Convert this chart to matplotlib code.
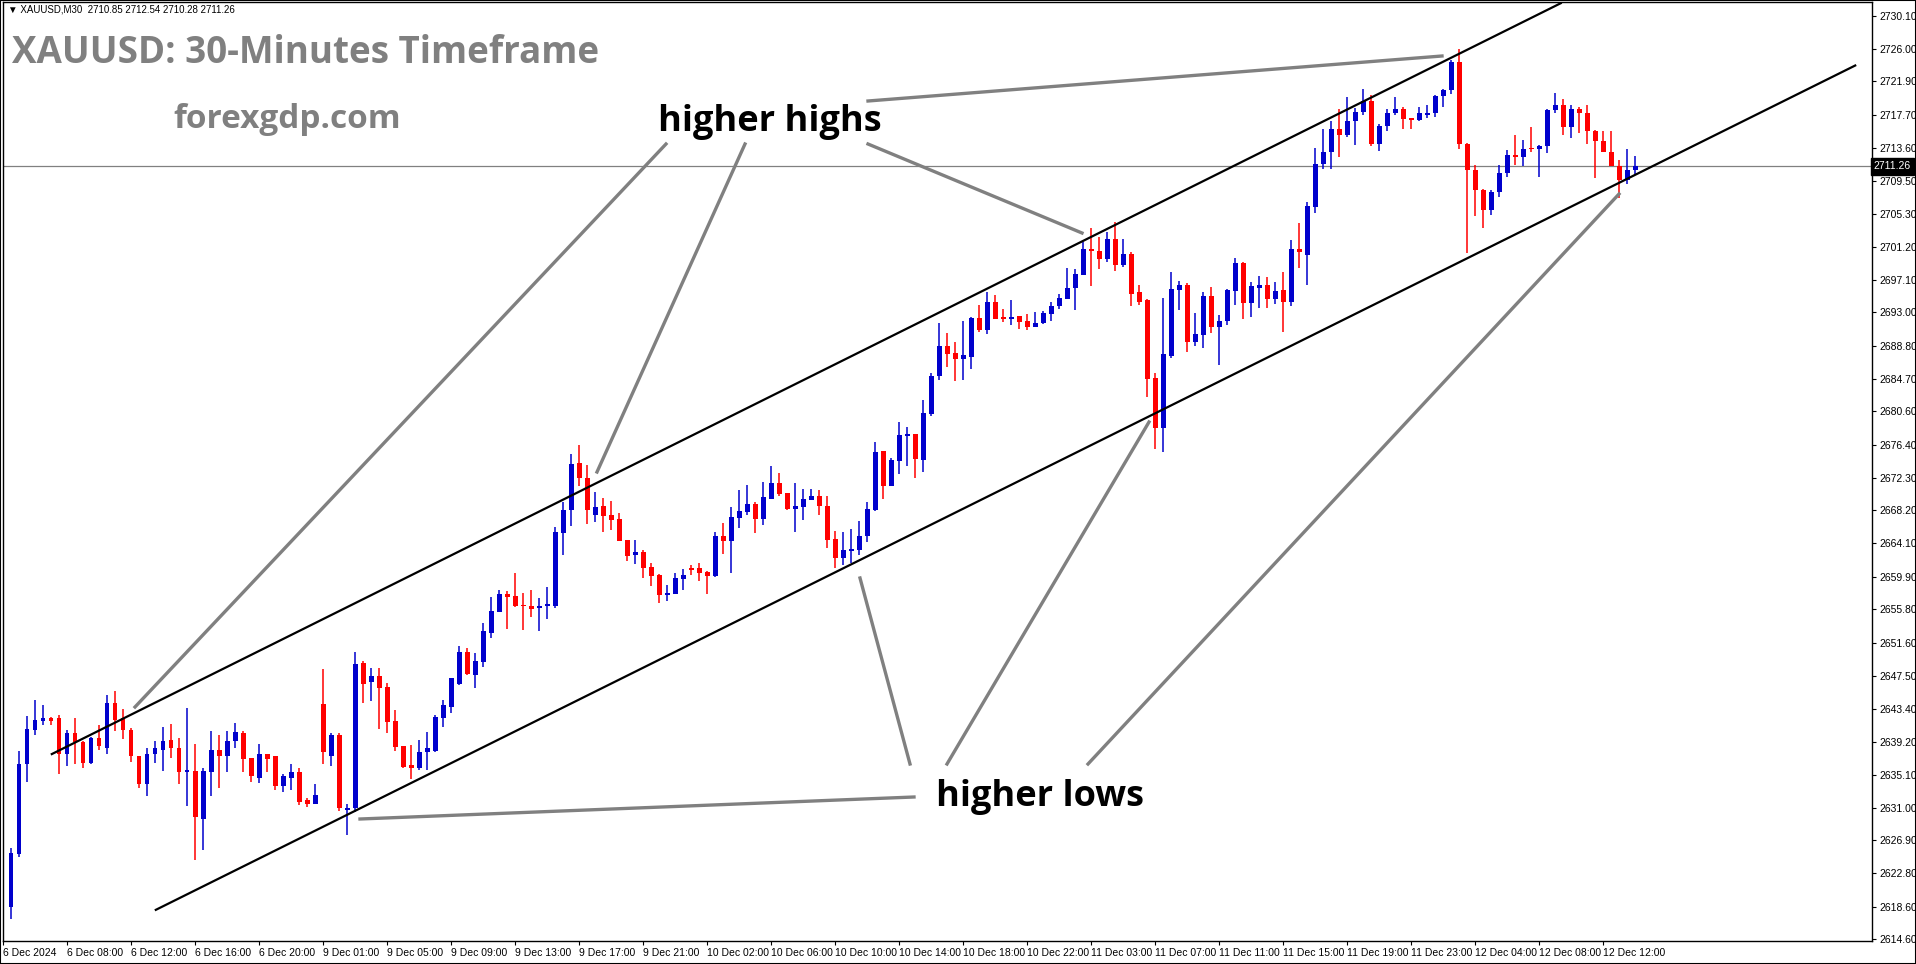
import matplotlib
matplotlib.use("Agg")
import matplotlib.pyplot as plt
from matplotlib.lines import Line2D
import numpy as np

W, H = 1916, 964

# OHLC of the 30-minute candles (10 per row)
opens = [
    2618.5, 2625.2, 2636.4, 2640.7, 2641.9, 2642.2, 2642.2, 2637.7, 2640.4, 2639.2,
    2636.6, 2639.7, 2638.5, 2644.1, 2642.2, 2640.7, 2637.5, 2634.0, 2637.7, 2638.2,
    2639.4, 2638.5, 2635.4, 2635.6, 2629.6, 2635.5, 2638.2, 2637.5, 2639.3, 2640.4,
    2637.2, 2634.7, 2637.7, 2637.4, 2633.7, 2634.7, 2635.5, 2631.9, 2631.5, 2644.0,
    2637.4, 2640.1, 2630.7, 2630.9, 2649.1, 2646.7, 2647.5, 2646.1, 2641.9, 2638.7,
    2636.3, 2636.0, 2637.9, 2638.1, 2642.2, 2643.6, 2646.5, 2650.5, 2647.6, 2649.2,
    2652.9, 2655.5, 2657.8, 2657.5, 2656.4, 2656.3, 2656.0, 2656.2, 2656.3, 2665.4,
    2668.2, 2674.2, 2672.3, 2667.6, 2668.8, 2667.6, 2667.1, 2664.5, 2662.6, 2663.0,
    2661.1, 2660.1, 2657.6, 2657.8, 2659.6, 2661.0, 2661.0, 2660.5, 2660.0, 2665.0,
    2664.4, 2667.3, 2668.0, 2669.0, 2667.1, 2669.6, 2671.6, 2670.4, 2668.4, 2668.6,
    2669.5, 2670.0, 2668.8, 2664.6, 2662.3, 2663.1, 2663.3, 2665.0, 2668.3, 2675.7,
    2671.3, 2674.4, 2677.5, 2677.8, 2674.5, 2680.3, 2685.0, 2688.8, 2687.9, 2687.2,
    2687.4, 2692.3, 2690.8, 2694.3, 2692.4, 2692.2, 2692.6, 2691.9, 2691.2, 2691.7,
    2692.8, 2693.8, 2694.7, 2696.0, 2697.7, 2700.9, 2700.7, 2699.7, 2702.2, 2698.9,
    2700.3, 2695.5, 2694.5, 2684.8, 2678.5, 2687.5, 2695.8, 2696.4, 2689.3, 2690.2,
    2695.1, 2691.2, 2691.9, 2695.7, 2699.2, 2694.2, 2696.1, 2696.4, 2694.7, 2695.8,
    2694.3, 2700.9, 2700.2, 2706.2, 2711.6, 2713.1, 2716.0, 2715.2, 2716.9, 2718.1,
    2719.4, 2714.1, 2716.3, 2717.9, 2718.5, 2717.2, 2717.1, 2717.7, 2718.0, 2720.1,
    2720.8, 2724.4, 2714.1, 2710.8, 2708.3, 2705.8, 2708.1, 2710.4, 2712.7, 2712.5,
    2713.5, 2713.4, 2713.8, 2718.3, 2718.9, 2716.2, 2718.4, 2718.0, 2715.7, 2714.5,
    2713.1, 2711.3, 2709.6, 2710.85,
]
highs = [
    2626.0, 2638.1, 2642.5, 2644.5, 2643.9, 2642.4, 2642.6, 2640.7, 2642.2, 2639.3,
    2639.9, 2641.4, 2645.1, 2645.6, 2643.4, 2641.0, 2637.5, 2638.4, 2639.3, 2641.1,
    2641.5, 2639.7, 2643.5, 2639.0, 2636.0, 2640.6, 2640.1, 2640.6, 2641.6, 2640.6,
    2637.2, 2639.0, 2637.7, 2637.4, 2635.2, 2636.4, 2635.9, 2632.2, 2633.9, 2648.3,
    2640.3, 2640.3, 2631.5, 2650.5, 2649.4, 2648.5, 2648.5, 2646.6, 2643.2, 2638.7,
    2638.8, 2639.4, 2640.5, 2642.6, 2644.5, 2647.2, 2651.2, 2651.0, 2650.4, 2654.1,
    2657.4, 2658.3, 2658.1, 2660.4, 2657.9, 2658.3, 2657.3, 2658.6, 2666.1, 2669.3,
    2675.3, 2676.4, 2673.9, 2670.5, 2669.8, 2669.4, 2667.9, 2664.5, 2664.5, 2663.3,
    2661.6, 2660.3, 2658.9, 2660.4, 2660.9, 2661.4, 2661.6, 2660.6, 2665.5, 2666.6,
    2668.6, 2670.8, 2671.4, 2669.3, 2671.8, 2673.8, 2672.9, 2670.4, 2671.6, 2670.9,
    2670.9, 2670.8, 2670.0, 2665.6, 2665.5, 2665.9, 2666.9, 2669.3, 2676.8, 2675.7,
    2674.8, 2679.3, 2678.7, 2677.8, 2682.0, 2685.4, 2691.7, 2690.4, 2689.3, 2691.9,
    2692.4, 2693.9, 2695.6, 2695.2, 2693.4, 2694.6, 2692.6, 2692.8, 2693.1, 2693.2,
    2694.3, 2695.3, 2698.6, 2698.4, 2701.8, 2703.6, 2702.4, 2703.1, 2704.3, 2702.2,
    2700.6, 2696.4, 2694.7, 2685.4, 2694.8, 2698.1, 2696.9, 2696.7, 2692.9, 2695.5,
    2696.2, 2692.7, 2695.9, 2699.8, 2699.3, 2696.8, 2697.6, 2697.4, 2696.8, 2698.1,
    2702.1, 2704.2, 2706.8, 2713.6, 2715.9, 2716.9, 2718.5, 2719.9, 2718.6, 2721.0,
    2720.2, 2716.6, 2718.4, 2719.9, 2718.7, 2717.2, 2718.7, 2719.0, 2720.2, 2721.0,
    2724.6, 2726.0, 2714.2, 2711.4, 2708.5, 2708.3, 2711.4, 2713.3, 2715.2, 2714.6,
    2716.2, 2713.9, 2718.5, 2720.5, 2719.7, 2719.0, 2718.7, 2719.0, 2715.8, 2715.7,
    2715.7, 2712.1, 2713.4, 2712.54,
]
lows = [
    2617.0, 2624.8, 2634.2, 2640.1, 2641.4, 2641.4, 2635.2, 2636.2, 2636.5, 2636.0,
    2636.4, 2638.2, 2637.7, 2640.6, 2639.6, 2636.7, 2633.5, 2632.4, 2636.6, 2635.6,
    2637.2, 2633.9, 2631.2, 2624.5, 2625.7, 2632.5, 2633.4, 2635.5, 2638.5, 2635.4,
    2634.2, 2634.1, 2635.4, 2633.2, 2632.9, 2633.2, 2631.3, 2631.1, 2631.5, 2636.5,
    2636.2, 2630.6, 2627.6, 2630.5, 2644.1, 2644.4, 2640.9, 2640.3, 2638.1, 2636.0,
    2634.6, 2635.7, 2635.7, 2638.0, 2641.1, 2642.9, 2646.4, 2647.6, 2646.0, 2648.6,
    2652.2, 2655.5, 2653.4, 2656.1, 2653.2, 2654.9, 2653.1, 2654.6, 2656.0, 2662.6,
    2666.3, 2671.2, 2666.5, 2666.8, 2665.5, 2665.8, 2664.4, 2661.9, 2661.5, 2659.8,
    2658.8, 2656.6, 2656.9, 2657.8, 2658.3, 2660.1, 2659.4, 2657.8, 2659.9, 2662.8,
    2660.4, 2666.0, 2667.6, 2665.4, 2666.4, 2669.6, 2670.0, 2668.3, 2665.5, 2667.0,
    2669.5, 2667.6, 2663.5, 2661.0, 2661.4, 2661.6, 2662.6, 2664.3, 2668.1, 2669.6,
    2671.3, 2672.7, 2673.8, 2672.2, 2673.0, 2680.0, 2684.5, 2686.2, 2684.4, 2684.5,
    2685.9, 2690.5, 2690.3, 2692.2, 2691.8, 2691.4, 2690.9, 2690.8, 2691.2, 2691.5,
    2691.9, 2693.4, 2694.7, 2693.3, 2697.7, 2696.3, 2698.4, 2699.3, 2698.2, 2698.7,
    2693.8, 2693.9, 2682.4, 2675.9, 2675.5, 2687.3, 2693.3, 2688.0, 2688.8, 2688.5,
    2690.4, 2686.4, 2691.4, 2693.9, 2692.2, 2692.4, 2693.6, 2693.6, 2694.1, 2690.5,
    2693.8, 2698.6, 2696.4, 2705.4, 2711.0, 2711.0, 2712.4, 2715.0, 2713.9, 2717.7,
    2713.8, 2713.2, 2715.7, 2717.7, 2716.0, 2716.0, 2716.9, 2717.3, 2717.4, 2718.7,
    2720.3, 2713.5, 2700.4, 2705.0, 2703.5, 2705.2, 2707.4, 2710.0, 2711.4, 2711.3,
    2713.1, 2709.9, 2713.0, 2717.9, 2715.2, 2714.8, 2715.4, 2714.1, 2709.8, 2713.1,
    2711.3, 2707.3, 2709.1, 2710.28,
]
closes = [
    2625.3, 2636.4, 2640.9, 2642.0, 2642.2, 2641.9, 2637.7, 2640.4, 2639.2, 2636.6,
    2639.7, 2638.7, 2644.1, 2642.0, 2640.7, 2637.4, 2634.0, 2637.7, 2638.5, 2639.3,
    2638.4, 2635.4, 2635.7, 2629.8, 2635.6, 2638.2, 2637.5, 2639.3, 2640.5, 2637.1,
    2634.9, 2637.7, 2637.1, 2633.7, 2634.9, 2635.5, 2631.7, 2631.5, 2632.6, 2637.9,
    2640.1, 2630.9, 2630.9, 2649.0, 2646.5, 2647.5, 2646.0, 2641.7, 2638.6, 2636.1,
    2635.9, 2638.0, 2638.4, 2642.4, 2643.9, 2647.2, 2650.5, 2647.7, 2649.4, 2653.1,
    2655.6, 2657.8, 2657.4, 2656.3, 2656.2, 2655.9, 2656.3, 2656.5, 2665.5, 2668.3,
    2674.0, 2672.2, 2668.3, 2668.6, 2667.5, 2667.0, 2664.4, 2662.5, 2663.0, 2661.0,
    2660.0, 2657.6, 2657.9, 2659.8, 2660.1, 2660.8, 2660.4, 2660.0, 2665.0, 2664.4,
    2667.4, 2668.1, 2669.0, 2667.1, 2669.9, 2671.6, 2670.3, 2668.4, 2668.8, 2669.6,
    2670.0, 2668.7, 2664.5, 2662.3, 2663.3, 2663.4, 2665.0, 2668.4, 2675.5, 2671.3,
    2674.5, 2677.7, 2677.8, 2674.7, 2680.4, 2685.0, 2688.8, 2687.8, 2687.2, 2687.6,
    2692.3, 2690.8, 2694.3, 2692.2, 2692.2, 2692.4, 2691.8, 2691.2, 2691.7, 2692.9,
    2693.8, 2694.8, 2696.1, 2697.8, 2700.9, 2700.7, 2699.7, 2702.2, 2698.9, 2700.3,
    2695.3, 2694.3, 2684.7, 2678.5, 2687.8, 2695.9, 2696.4, 2689.3, 2690.3, 2695.1,
    2691.2, 2691.9, 2695.8, 2699.2, 2694.2, 2696.3, 2696.4, 2694.7, 2695.7, 2694.3,
    2700.9, 2700.6, 2706.3, 2711.6, 2713.1, 2716.0, 2715.2, 2716.9, 2718.1, 2719.4,
    2714.1, 2716.3, 2717.9, 2718.5, 2717.2, 2717.1, 2717.9, 2718.0, 2720.1, 2720.8,
    2724.4, 2714.1, 2710.8, 2708.3, 2705.8, 2708.1, 2710.4, 2712.7, 2712.5, 2713.5,
    2713.4, 2713.8, 2718.3, 2718.9, 2716.2, 2718.4, 2718.0, 2715.7, 2714.5, 2713.1,
    2711.3, 2709.6, 2710.8, 2711.26,
]

last_price = 2711.26
price_ticks = [2614.60, 2618.60, 2622.80, 2626.90, 2631.00, 2635.10, 2639.20, 2643.40,
               2647.50, 2651.60, 2655.80, 2659.90, 2664.10, 2668.20, 2672.30, 2676.40,
               2680.60, 2684.70, 2688.80, 2693.00, 2697.10, 2701.20, 2705.30, 2709.50,
               2713.60, 2717.70, 2721.90, 2726.00, 2730.10]
time_tick_bars = list(range(-1, 200, 8))
time_tick_labels = ["6 Dec 2024", "6 Dec 08:00", "6 Dec 12:00", "6 Dec 16:00", "6 Dec 20:00",
                    "9 Dec 01:00", "9 Dec 05:00", "9 Dec 09:00", "9 Dec 13:00", "9 Dec 17:00",
                    "9 Dec 21:00", "10 Dec 02:00", "10 Dec 06:00", "10 Dec 10:00",
                    "10 Dec 14:00", "10 Dec 18:00", "10 Dec 22:00", "11 Dec 03:00",
                    "11 Dec 07:00", "11 Dec 11:00", "11 Dec 15:00", "11 Dec 19:00",
                    "11 Dec 23:00", "12 Dec 04:00", "12 Dec 08:00", "12 Dec 12:00"]

# channel lines (bar index, price)
upper_channel = ([5.1, 193.7], [2637.7, 2731.7])
lower_channel = ([18.1, 230.5], [2618.2, 2723.9])

# grey pointer lines, figure pixels (x0, y0, x1, y1)
pointers = [
    (666, 144, 135, 707), (745, 144, 597, 472), (868, 144, 1082, 233), (868, 101, 1442, 56),
    (914, 797, 360, 819), (910, 764, 860, 578), (947, 764, 1149, 422), (1088, 764, 1619, 194),
]

BLUE, RED, GREY = "#0000CC", "#FF0000", "#808080"
TICK_FONT = ["Liberation Sans", "DejaVu Sans"]

o, h, l, c = map(np.array, (opens, highs, lows, closes))
x = np.arange(len(c))
up = c >= o

fig = plt.figure(figsize=(W / 100, H / 100), dpi=100)
ax = fig.add_axes([3 / W, 1 - 941 / H, (1872 - 3) / W, (941 - 2) / H])
ax.set_xlim(-1, 232.6)
ax.set_ylim(2614.3, 2731.85)

colors = np.where(up, BLUE, RED)
ax.vlines(x, l, h, colors=colors, linewidth=1.1, zorder=2)
body_lo = np.minimum(o, c)
body_h = np.maximum(np.abs(c - o), 0.2)
ax.bar(x, body_h, bottom=body_lo, width=0.62, color=colors, linewidth=0, zorder=3)

ax.plot(*upper_channel, color="black", linewidth=1.6, zorder=4)
ax.plot(*lower_channel, color="black", linewidth=1.6, zorder=4)
ax.axhline(last_price, color=GREY, linewidth=0.9, zorder=1)

ax.yaxis.tick_right()
ax.set_yticks(price_ticks)
ax.set_yticklabels([f"{t:.2f}" for t in price_ticks], family=TICK_FONT)
ax.set_xticks(time_tick_bars)
ax.set_xticklabels(time_tick_labels, ha="left", family=TICK_FONT)
ax.tick_params(axis="both", labelsize=7.5, length=3, width=0.8, colors="black", pad=2)
for sp in ax.spines.values():
    sp.set_linewidth(1.0)

ax.text(1.001, last_price, f"{last_price:.2f}", transform=ax.get_yaxis_transform(),
        ha="left", va="center", fontsize=7.5, color="white", family=TICK_FONT,
        bbox=dict(boxstyle="square,pad=0.3", fc="black", ec="black"), zorder=6)

for x0, y0, x1, y1 in pointers:
    fig.add_artist(Line2D([x0 / W, x1 / W], [1 - y0 / H, 1 - y1 / H],
                          transform=fig.transFigure, color=GREY, linewidth=2.4))

fig.text(8 / W, 1 - 10 / H, "\u25bc XAUUSD,M30  2710.85 2712.54 2710.28 2711.26",
         fontsize=7, va="center", ha="left", family=TICK_FONT)
fig.text(12 / W, 1 - 53 / H, "XAUUSD: 30-Minutes Timeframe", fontsize=26.5,
         fontweight="bold", color=GREY, family="Open Sans", va="center", ha="left")
fig.text(173 / W, 1 - 120 / H, "forexgdp.com", fontsize=24, fontweight="bold",
         color=GREY, family="Open Sans", va="center", ha="left")
fig.text(770 / W, 1 - 122 / H, "higher highs", fontsize=26, fontweight="bold",
         color="black", family="Open Sans", va="center", ha="center")
fig.text(1040 / W, 1 - 797 / H, "higher lows", fontsize=26, fontweight="bold",
         color="black", family="Open Sans", va="center", ha="center")

fig.add_artist(plt.Rectangle((0, 0), 1, 1, transform=fig.transFigure, fill=False,
                             ec="black", lw=1.5))

fig.savefig("out.png", dpi=100)
